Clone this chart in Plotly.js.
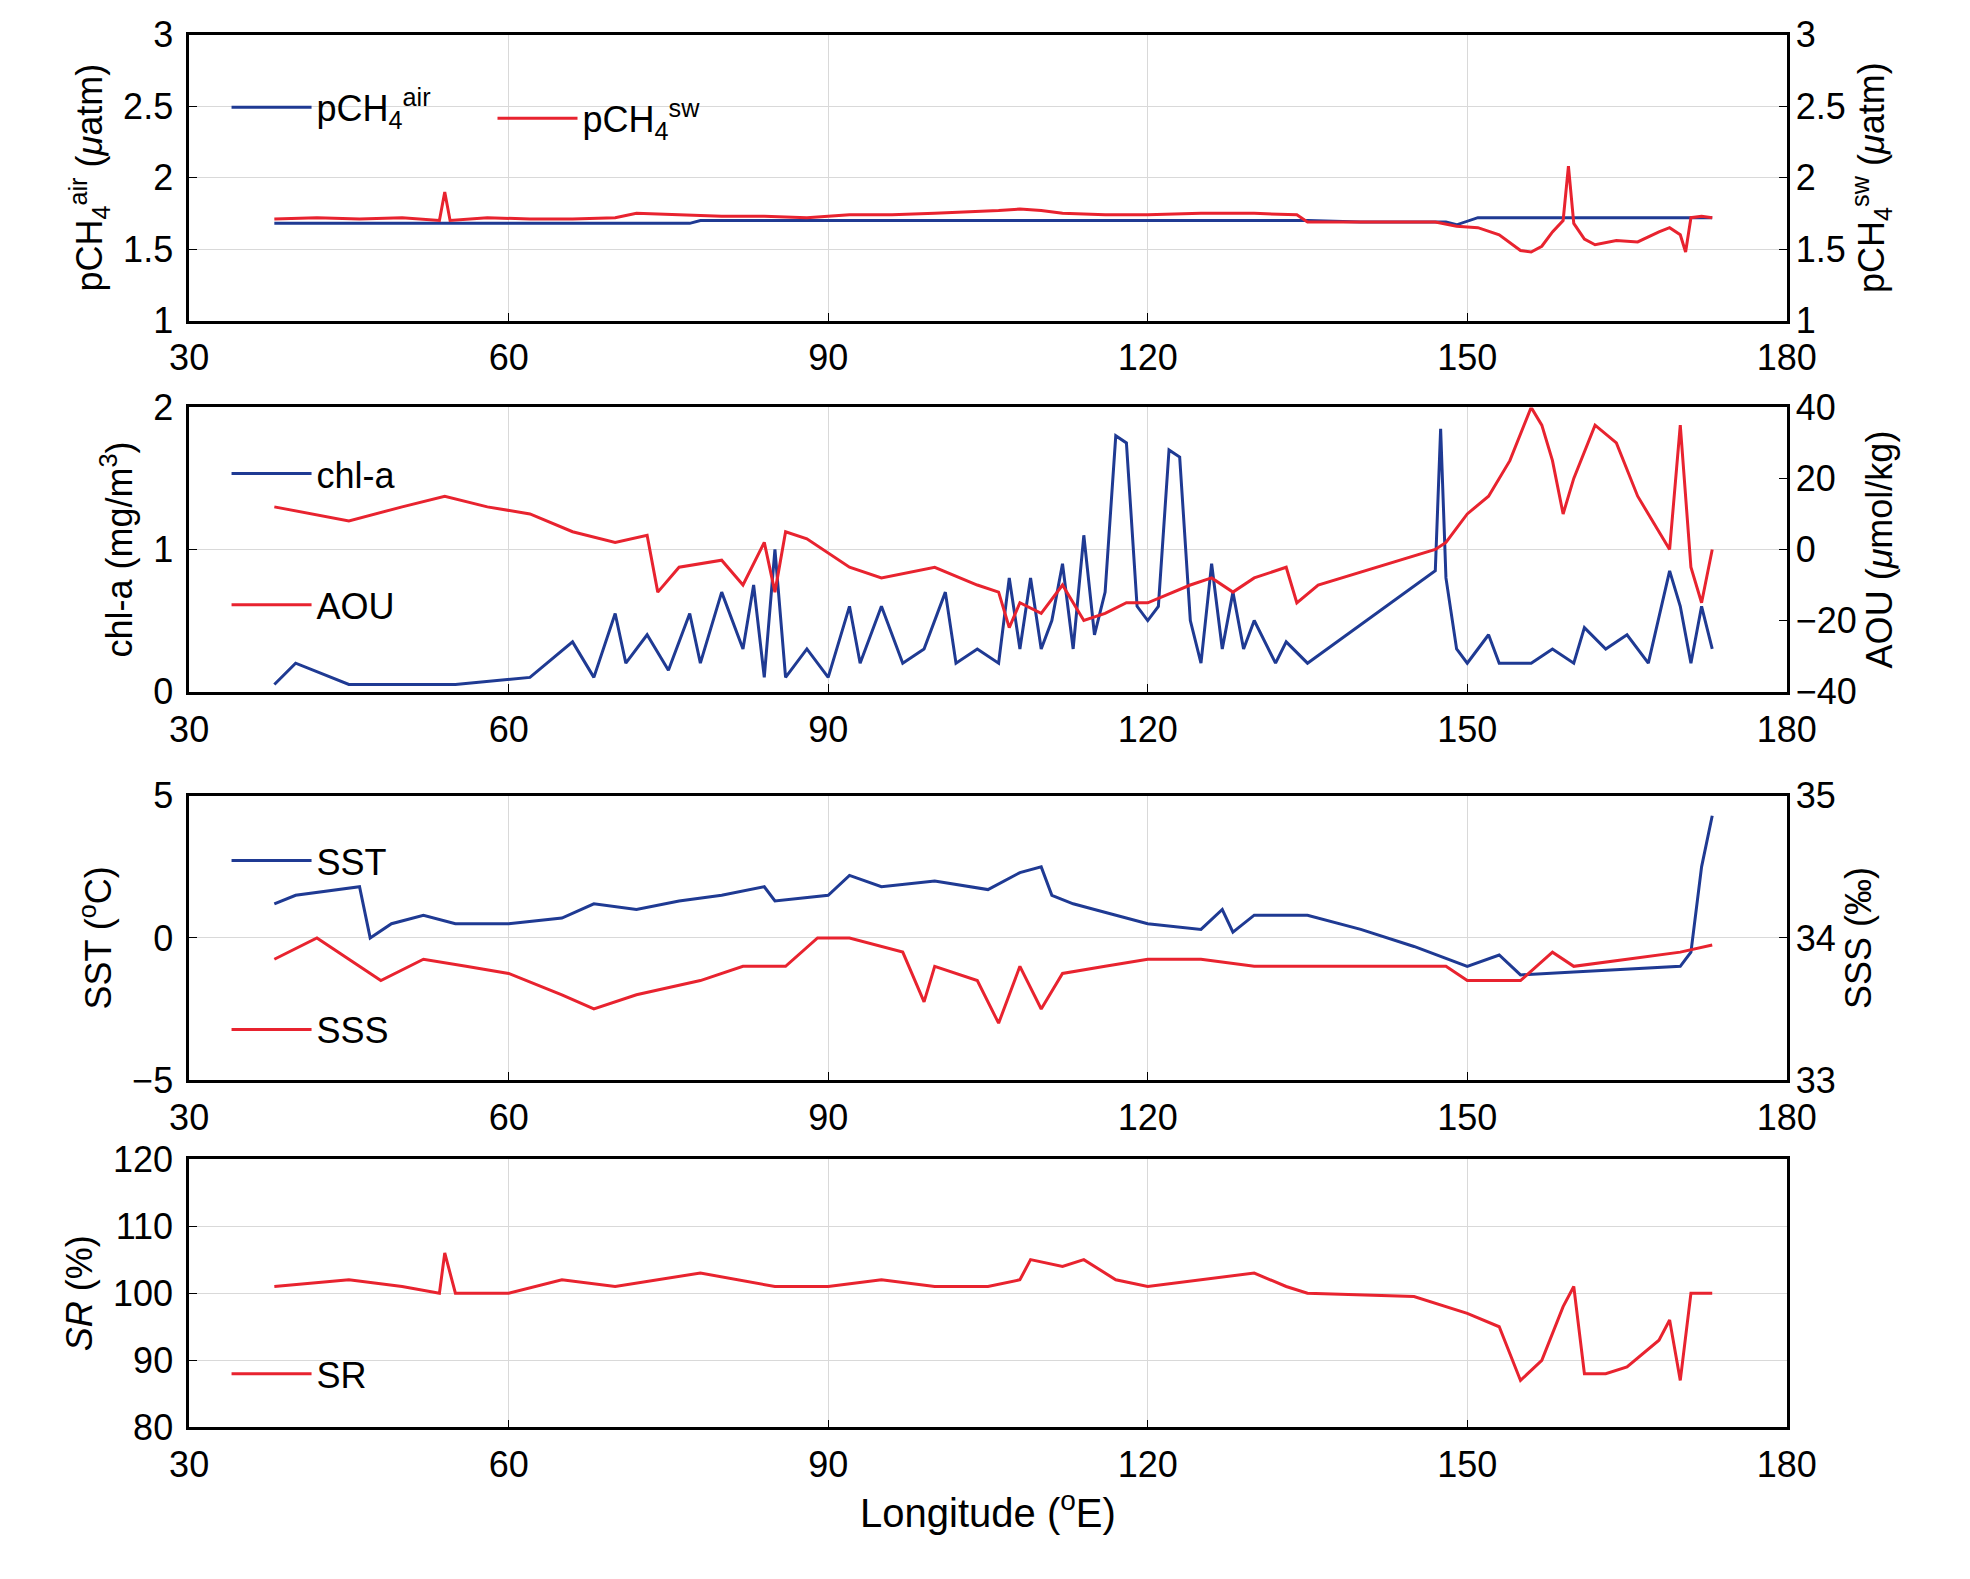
<!DOCTYPE html>
<html>
<head>
<meta charset="utf-8">
<script src="https://cdn.plot.ly/plotly-3.0.1.min.js"></script>
<style>body{margin:0;background:#fff}#chart{width:1970px;height:1579px}</style>
</head>
<body>
<div id="chart"></div>
<script>
// pCH4 in air and seawater (uatm)
var lonAir = [38, 50, 60, 70, 77, 78, 90, 100, 110, 120, 135, 140, 148, 149, 151, 160, 170, 173];
var pAir   = [1.68, 1.68, 1.68, 1.68, 1.68, 1.70, 1.70, 1.70, 1.70, 1.70, 1.70, 1.69, 1.69, 1.67, 1.72, 1.72, 1.72, 1.72];
var lonSw = [38, 42, 46, 50, 53.5, 54, 54.5, 58, 62, 66, 70, 72, 76, 80, 84, 88, 92, 96, 100, 104, 106, 108, 110, 112, 116, 120, 125, 130, 134, 135, 140, 147, 149, 151, 153, 155, 156, 157, 158, 159, 159.5, 160, 161, 162, 164, 166, 168, 169, 170, 170.5, 171, 172, 173];
var pSw   = [1.71, 1.72, 1.71, 1.72, 1.70, 1.90, 1.70, 1.72, 1.71, 1.71, 1.72, 1.75, 1.74, 1.73, 1.73, 1.72, 1.74, 1.74, 1.75, 1.76, 1.77, 1.78, 1.77, 1.75, 1.74, 1.74, 1.75, 1.75, 1.74, 1.69, 1.69, 1.69, 1.66, 1.65, 1.60, 1.49, 1.48, 1.52, 1.62, 1.70, 2.08, 1.68, 1.57, 1.53, 1.56, 1.55, 1.62, 1.65, 1.60, 1.48, 1.72, 1.73, 1.72];

// chl-a (mg/m3) and AOU (umol/kg)
var lonChl = [38, 40, 45, 55, 62, 66, 68, 70, 71, 73, 75, 77, 78, 80, 82, 83, 84, 85, 86, 88, 90, 92, 93, 95, 97, 99, 101, 102, 104, 106, 107, 108, 109, 110, 111, 112, 113, 114, 115, 116, 117, 118, 119, 120, 121, 122, 123, 124, 125, 126, 127, 128, 129, 130, 132, 133, 135, 147, 147.5, 148, 149, 150, 152, 153, 156, 158, 160, 161, 163, 165, 167, 169, 170, 171, 172, 173];
var chl    = [0.05, 0.2, 0.05, 0.05, 0.1, 0.35, 0.1, 0.55, 0.2, 0.4, 0.15, 0.55, 0.2, 0.7, 0.3, 0.75, 0.1, 1.0, 0.1, 0.3, 0.1, 0.6, 0.2, 0.6, 0.2, 0.3, 0.7, 0.2, 0.3, 0.2, 0.8, 0.3, 0.8, 0.3, 0.5, 0.9, 0.3, 1.1, 0.4, 0.7, 1.8, 1.75, 0.6, 0.5, 0.6, 1.7, 1.65, 0.5, 0.2, 0.9, 0.3, 0.7, 0.3, 0.5, 0.2, 0.35, 0.2, 0.85, 1.85, 0.8, 0.3, 0.2, 0.4, 0.2, 0.2, 0.3, 0.2, 0.45, 0.3, 0.4, 0.2, 0.85, 0.6, 0.2, 0.6, 0.3];
var lonAou = [38, 45, 50, 54, 58, 62, 66, 70, 73, 74, 76, 80, 82, 84, 85, 86, 88, 92, 95, 100, 104, 106, 107, 108, 110, 112, 114, 116, 118, 120, 124, 126, 128, 130, 133, 134, 136, 147, 148, 150, 152, 154, 156, 157, 158, 159, 160, 162, 164, 166, 168, 169, 170, 171, 172, 173];
var aou    = [12, 8, 12, 15, 12, 10, 5, 2, 4, -12, -5, -3, -10, 2, -12, 5, 3, -5, -8, -5, -10, -12, -22, -15, -18, -10, -20, -18, -15, -15, -10, -8, -12, -8, -5, -15, -10, 0, 2, 10, 15, 25, 40, 35, 25, 10, 20, 35, 30, 15, 5, 0, 35, -5, -15, 0];

// SST (oC) and SSS
var lonSst = [38, 40, 46, 47, 49, 52, 55, 60, 65, 68, 72, 76, 80, 84, 85, 90, 92, 95, 100, 105, 108, 110, 111, 113, 115, 120, 125, 127, 128, 130, 135, 140, 145, 150, 153, 155, 160, 165, 170, 171, 172, 173];
var sst    = [1.2, 1.5, 1.8, 0, 0.5, 0.8, 0.5, 0.5, 0.7, 1.2, 1.0, 1.3, 1.5, 1.8, 1.3, 1.5, 2.2, 1.8, 2.0, 1.7, 2.3, 2.5, 1.5, 1.2, 1.0, 0.5, 0.3, 1.0, 0.2, 0.8, 0.8, 0.3, -0.3, -1.0, -0.6, -1.3, -1.2, -1.1, -1.0, -0.5, 2.5, 4.3];
var lonSss = [38, 42, 48, 52, 56, 60, 65, 68, 72, 78, 82, 86, 89, 92, 97, 99, 100, 104, 106, 107, 108, 110, 112, 116, 120, 125, 130, 135, 148, 150, 155, 158, 160, 165, 170, 173];
var sss    = [33.85, 34.0, 33.7, 33.85, 33.8, 33.75, 33.6, 33.5, 33.6, 33.7, 33.8, 33.8, 34.0, 34.0, 33.9, 33.55, 33.8, 33.7, 33.4, 33.6, 33.8, 33.5, 33.75, 33.8, 33.85, 33.85, 33.8, 33.8, 33.8, 33.7, 33.7, 33.9, 33.8, 33.85, 33.9, 33.95];

// saturation ratio (%)
var lonSr = [38, 45, 50, 53.5, 54, 55, 60, 65, 70, 78, 85, 90, 95, 100, 105, 108, 109, 112, 114, 117, 120, 125, 130, 133, 135, 145, 150, 153, 155, 157, 159, 160, 161, 163, 165, 168, 169, 170, 171, 173];
var sr    = [101, 102, 101, 100, 106, 100, 100, 102, 101, 103, 101, 101, 102, 101, 101, 102, 105, 104, 105, 102, 101, 102, 103, 101, 100, 99.5, 97, 95, 87, 90, 98, 101, 88, 88, 89, 93, 96, 87, 100, 100];

var blue = '#1f3a93', red = '#e8232f';
var font = {family: 'Liberation Sans, Arial, sans-serif', size: 36, color: 'black'};
var legFont = {family: 'Liberation Sans, Arial, sans-serif', size: 36, color: 'black'};

function tr(x, y, name, color, xa, ya, leg) {
    return {x: x, y: y, name: name, type: 'scatter', mode: 'lines',
        line: {color: color, width: 3}, xaxis: xa, yaxis: ya, legend: leg};
}
var data = [
    tr(lonAir, pAir, 'pCH<sub>4</sub><sup>air</sup>', blue, 'x', 'y', 'legend'),
    tr(lonSw, pSw, 'pCH<sub>4</sub><sup>sw</sup>', red, 'x', 'y5', 'legend2'),
    tr(lonChl, chl, 'chl-a', blue, 'x2', 'y2', 'legend3'),
    tr(lonAou, aou, 'AOU', red, 'x2', 'y6', 'legend4'),
    tr(lonSst, sst, 'SST', blue, 'x3', 'y3', 'legend5'),
    tr(lonSss, sss, 'SSS', red, 'x3', 'y7', 'legend6'),
    tr(lonSr, sr, 'SR', red, 'x4', 'y4', 'legend7')
];

var dx = [0.096, 0.907];
var doms = [[0.797, 0.978], [0.562, 0.742], [0.316, 0.496], [0.096, 0.266]];
function xax(anchor) {
    return {domain: dx, range: [30, 180], dtick: 30, anchor: anchor, showline: true, mirror: true,
        linecolor: 'black', linewidth: 2.5, ticks: 'inside', ticklen: 8, tickcolor: 'black',
        showgrid: true, gridcolor: '#d9d9d9', tickfont: font, zeroline: false, ticklabelstandoff: 4};
}
function yax(dom, range, dtick, title, anchor) {
    return {domain: dom, range: range, dtick: dtick, anchor: anchor, showline: true, mirror: true,
        linecolor: 'black', linewidth: 2.5, ticks: 'inside', ticklen: 8, tickcolor: 'black',
        showgrid: true, gridcolor: '#d9d9d9', tickfont: font, zeroline: false, ticklabelstandoff: 6,
        title: {text: title, font: font, standoff: 10}};
}
function ryax(over, range, dtick, title, anchor) {
    return {overlaying: over, side: 'right', range: range, dtick: dtick, anchor: anchor,
        showline: false, ticks: 'inside', ticklen: 8, tickcolor: 'black', showgrid: false,
        tickfont: font, zeroline: false, ticklabelstandoff: 8, title: {text: title, font: font, standoff: 10}};
}
function leg(x, y) {
    return {x: x, y: y, xanchor: 'left', yanchor: 'middle', bgcolor: 'rgba(0,0,0,0)',
        font: legFont, itemwidth: 80};
}
var x4 = xax('y4');
x4.title = {text: 'Longitude (<sup>o</sup>E)', font: {family: font.family, size: 40, color: 'black'}, standoff: 15};

var layout = {
    width: 1970, height: 1579, showlegend: true,
    margin: {l: 0, r: 0, t: 0, b: 0},
    paper_bgcolor: 'white', plot_bgcolor: 'white',
    xaxis: xax('y'), xaxis2: xax('y2'), xaxis3: xax('y3'), xaxis4: x4,
    yaxis: yax(doms[0], [1, 3], 0.5, 'pCH<sub>4</sub><sup>air</sup> (<i>μ</i>atm)', 'x'),
    yaxis2: yax(doms[1], [0, 2], 1, 'chl-a (mg/m<sup>3</sup>)', 'x2'),
    yaxis3: yax(doms[2], [-5, 5], 5, 'SST (<sup>o</sup>C)', 'x3'),
    yaxis4: yax(doms[3], [80, 120], 10, '<i>SR</i> (%)', 'x4'),
    yaxis5: ryax('y', [1, 3], 0.5, 'pCH<sub>4</sub><sup>sw</sup> (<i>μ</i>atm)', 'x'),
    yaxis6: ryax('y2', [-40, 40], 20, 'AOU (<i>μ</i>mol/kg)', 'x2'),
    yaxis7: ryax('y3', [33, 35], 1, 'SSS (‰)', 'x3'),
    legend: leg(0.115, 0.932),
    legend2: leg(0.25, 0.925),
    legend3: leg(0.115, 0.70),
    legend4: leg(0.115, 0.617),
    legend5: leg(0.115, 0.455),
    legend6: leg(0.115, 0.348),
    legend7: leg(0.115, 0.13)
};

Plotly.newPlot('chart', data, layout, {displayModeBar: false});
</script>
</body>
</html>
